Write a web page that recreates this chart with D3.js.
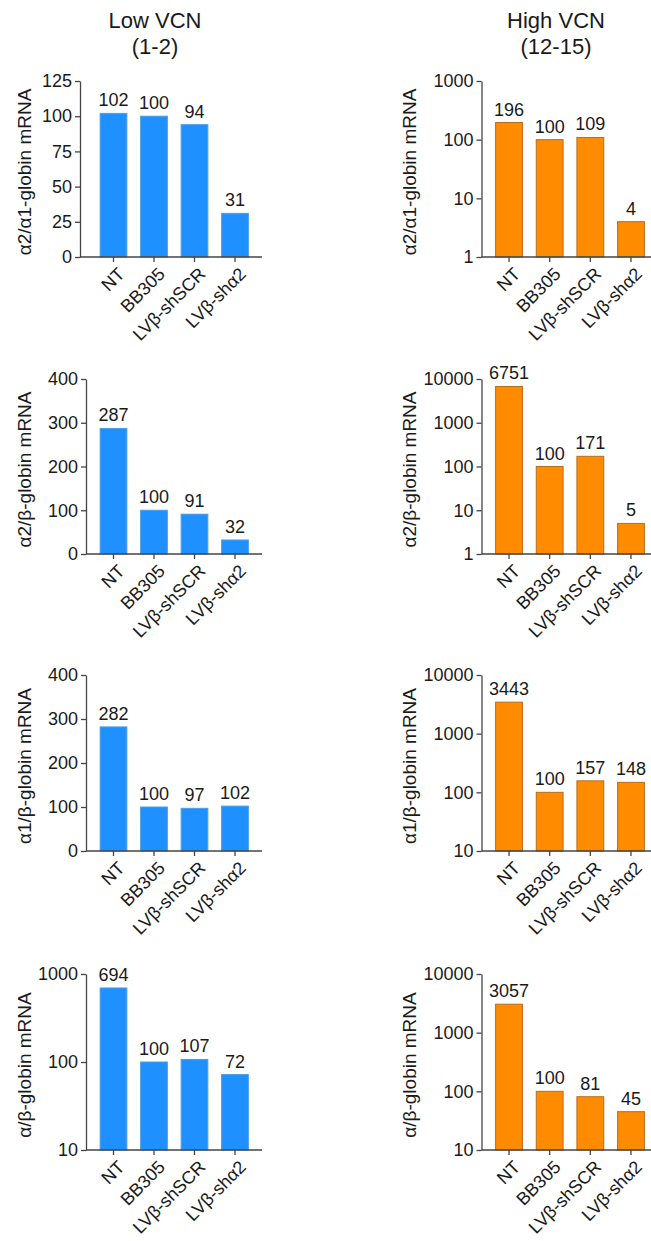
<!DOCTYPE html>
<html>
<head>
<meta charset="utf-8">
<script src="https://cdn.jsdelivr.net/npm/d3@7"></script>
<style>
  html, body { margin: 0; padding: 0; background: #fff; }
  svg { display: block; }
  text { font-family: Arial, "Liberation Sans", Helvetica, sans-serif; fill: #1a1a1a; }
</style>
</head>
<body>
<svg id="chart" width="651" height="1241"></svg>
<script>
// Constructs and relative globin mRNA values (BB305 = 100)
const constructs = ["NT", "BB305", "LVβ-shSCR", "LVβ-shα2"];

const lowA2A1  = [102, 100, 94, 31];
const lowA2B   = [287, 100, 91, 32];
const lowA1B   = [282, 100, 97, 102];
const lowAB    = [694, 100, 107, 72];

const highA2A1 = [196, 100, 109, 4];
const highA2B  = [6751, 100, 171, 5];
const highA1B  = [3443, 100, 157, 148];
const highAB   = [3057, 100, 81, 45];

const yTitles = ["α2/α1-globin mRNA", "α2/β-globin mRNA", "α1/β-globin mRNA", "α/β-globin mRNA"];
const columnTitles = [["Low VCN", "(1-2)"], ["High VCN", "(12-15)"]];

// Tick values per panel
const ticksLowA2A1  = [0, 25, 50, 75, 100, 125];
const ticksLowA2B   = [0, 100, 200, 300, 400];
const ticksLowA1B   = [0, 100, 200, 300, 400];
const ticksLowAB    = [10, 100, 1000];
const ticksHighA2A1 = [1, 10, 100, 1000];
const ticksHighA2B  = [1, 10, 100, 1000, 10000];
const ticksHighA1B  = [10, 100, 1000, 10000];
const ticksHighAB   = [10, 100, 1000, 10000];

const BLUE = "#1e90ff", BLUE_EDGE = "#4a9ee6";
const ORANGE = "#ff8c00", ORANGE_EDGE = "#b86d1c";

const svg = d3.select("#chart");

// Layout: two columns, four rows
const cols = [
  { axisX: 86, bandRange: [93.25, 255.25], lineEnd: 262, titleX: 155, yTitleX: 31, fill: BLUE, edge: BLUE_EDGE },
  { axisX: 481.5, bandRange: [488.7, 651.3], lineEnd: 651, titleX: 556, yTitleX: 416, fill: ORANGE, edge: ORANGE_EDGE }
];
const rows = [[81, 257], [379, 554], [675, 851], [974, 1150]];

const panels = [
  { col: 0, row: 0, values: lowA2A1, log: false, domain: [0, 125], ticks: ticksLowA2A1, axisX: 80 },
  { col: 0, row: 1, values: lowA2B, log: false, domain: [0, 400], ticks: ticksLowA2B },
  { col: 0, row: 2, values: lowA1B, log: false, domain: [0, 400], ticks: ticksLowA1B },
  { col: 0, row: 3, values: lowAB, log: true, domain: [10, 1000], ticks: ticksLowAB },
  { col: 1, row: 0, values: highA2A1, log: true, domain: [1, 1000], ticks: ticksHighA2A1 },
  { col: 1, row: 1, values: highA2B, log: true, domain: [1, 10000], ticks: ticksHighA2B },
  { col: 1, row: 2, values: highA1B, log: true, domain: [10, 10000], ticks: ticksHighA1B },
  { col: 1, row: 3, values: highAB, log: true, domain: [10, 10000], ticks: ticksHighAB }
];

// Column headers
columnTitles.forEach((lines, i) => {
  const t = svg.append("text")
    .attr("text-anchor", "middle")
    .style("font-size", "22px");
  t.append("tspan").attr("x", cols[i].titleX).attr("y", 28).text(lines[0]);
  t.append("tspan").attr("x", cols[i].titleX).attr("y", 54).text(lines[1]);
});

panels.forEach(p => {
  const c = cols[p.col];
  const [top, bottom] = rows[p.row];
  const axisX = p.axisX ?? c.axisX;

  const x = d3.scaleBand()
    .domain(constructs)
    .range(c.bandRange)
    .paddingInner(0.34)
    .paddingOuter(0.17);

  const y = (p.log ? d3.scaleLog() : d3.scaleLinear())
    .domain(p.domain)
    .range([bottom, top]);

  const g = svg.append("g");
  const base = p.domain[0];

  // Bars
  g.selectAll("rect.bar")
    .data(p.values)
    .join("rect")
    .attr("class", "bar")
    .attr("x", (d, i) => x(constructs[i]))
    .attr("width", x.bandwidth())
    .attr("y", d => y(d))
    .attr("height", d => y(base) - y(d))
    .attr("fill", c.fill)
    .attr("stroke", c.edge)
    .attr("stroke-width", 1);

  // Value labels above bars
  g.selectAll("text.val")
    .data(p.values)
    .join("text")
    .attr("class", "val")
    .attr("x", (d, i) => x(constructs[i]) + x.bandwidth() / 2)
    .attr("y", d => y(d) - 7)
    .attr("text-anchor", "middle")
    .style("font-size", "18px")
    .text(d => d);

  // Y axis
  const yAxis = g.append("g")
    .attr("transform", `translate(${axisX},0)`)
    .call(d3.axisLeft(y)
      .tickValues(p.ticks)
      .tickFormat(d3.format("d"))
      .tickSize(5)
      .tickSizeOuter(0)
      .tickPadding(3));
  yAxis.select(".domain").attr("stroke", "#444").attr("stroke-width", 1.3);
  yAxis.selectAll(".tick line").attr("stroke", "#444").attr("stroke-width", 1.3);
  yAxis.selectAll(".tick text")
    .style("font-size", "18px")
    .style("font-family", "Arial, 'Liberation Sans', sans-serif")
    .attr("fill", "#1a1a1a");

  // X axis: baseline drawn from the y axis, ticks at band centres
  g.append("line")
    .attr("x1", axisX).attr("x2", c.lineEnd)
    .attr("y1", bottom).attr("y2", bottom)
    .attr("stroke", "#444").attr("stroke-width", 1.3);

  const xAxis = g.append("g")
    .attr("transform", `translate(0,${bottom})`)
    .call(d3.axisBottom(x).tickSize(5).tickSizeOuter(0));
  xAxis.select(".domain").remove();
  xAxis.selectAll(".tick line").attr("stroke", "#444").attr("stroke-width", 1.3);
  xAxis.selectAll(".tick text").remove();

  // Rotated category labels
  g.selectAll("text.cat")
    .data(constructs)
    .join("text")
    .attr("class", "cat")
    .attr("text-anchor", "end")
    .attr("transform", d => `translate(${x(d) + x.bandwidth() / 2 + 3},${bottom + 9}) rotate(-45)`)
    .attr("y", "0.72em")
    .style("font-size", "18px")
    .text(d => d);

  // Y axis title
  g.append("text")
    .attr("text-anchor", "middle")
    .attr("transform", `translate(${c.yTitleX},${(top + bottom) / 2 + 3}) rotate(-90)`)
    .style("font-size", "19px")
    .text(yTitles[p.row]);
});
</script>
</body>
</html>
